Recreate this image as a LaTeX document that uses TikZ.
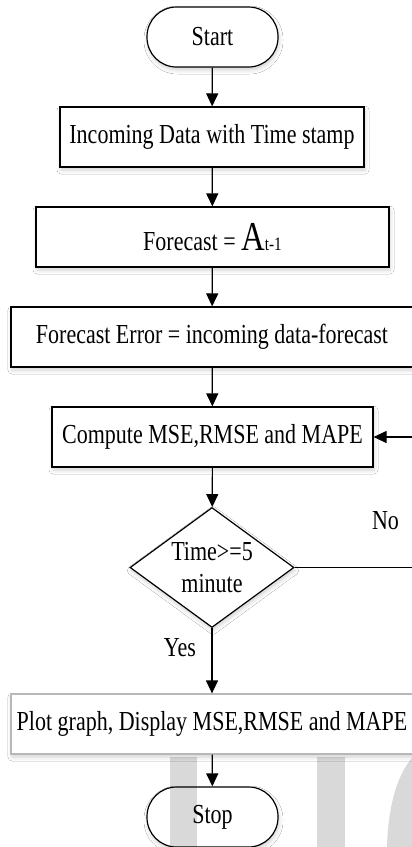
\documentclass[tikz,border=0pt]{standalone}
\usepackage{fontspec}
\setmainfont[FakeStretch=0.8]{Liberation Serif}
\usetikzlibrary{shapes.geometric,arrows.meta,shadows.blur}

\tikzset{
  flow/.style={draw=black, line width=1.2pt, fill=white, inner sep=0pt,
    font=\fontsize{27.5pt}{32pt}\selectfont,
    blur shadow={shadow xshift=1pt, shadow yshift=-3pt, shadow blur radius=4pt, shadow opacity=18}},
  procbox/.style={flow, rectangle, minimum height=60pt},
  termbox/.style={flow, rectangle, rounded corners=29.5pt, minimum width=131pt, minimum height=60pt},
  decbox/.style={flow, diamond, aspect=1.367, minimum width=164pt, minimum height=120pt, align=center},
  link/.style={line width=1.2pt, -{Triangle[width=12pt,length=13pt]}},
  lbl/.style={font=\fontsize{27.5pt}{32pt}\selectfont, inner sep=0pt},
  wmark/.style={fill=black, opacity=0.15}
}

\begin{document}
\begin{tikzpicture}[x=1pt, y=-1pt]
  \useasboundingbox (0,0) rectangle (412,847);
  \fill[white] (0,0) rectangle (412,847);
  \clip (0,0) rectangle (412,847);

  % flowchart steps
  \node[termbox] (start) at (212.5,37) {Start};
  \node[procbox, minimum width=304pt] (incoming) at (212,137) {Incoming Data with Time stamp};
  \node[procbox, minimum width=353pt] (forecast) at (212.5,237)
    {Forecast = {\fontsize{41pt}{41pt}\selectfont A}{\fontsize{19pt}{19pt}\selectfont t-1}};
  \node[procbox, minimum width=402pt] (ferror) at (212,337) {Forecast Error = incoming data-forecast};
  \node[procbox, minimum width=321pt] (compute) at (212.5,437) {Compute MSE,RMSE and MAPE};
  \node[decbox] (check) at (212,567.5) {Time>=5\\minute};
  \node[procbox, minimum width=402pt, draw=black!28] (plot) at (212,724) {Plot graph, Display MSE,RMSE and MAPE};
  \node[termbox] (stop) at (212.5,817) {Stop};

  % connectors
  \draw[link] (start) -- (incoming);
  \draw[link] (incoming) -- (forecast);
  \draw[link] (forecast) -- (ferror);
  \draw[link] (ferror) -- (compute);
  \draw[link] (compute) -- (check);
  \draw[link] (check) -- (plot);
  \draw[link] (plot) -- (stop);

  % loop back while the time limit is not reached
  \coordinate (loopturn) at (426,567.5);
  \draw[link] (check.east) -- (loopturn) |- (compute.east);

  \node[lbl] (nolbl) at (385.5,521) {No};
  \node[lbl] (yeslbl) at (180,648) {Yes};

  % watermark letters
  \fill[wmark] (170,757) rectangle (197,847);
  \fill[wmark] (317,757) rectangle (345,847);
  \fill[wmark] (413,757) .. controls (396,775) and (388,810) .. (387,847) -- (413,847) -- cycle;
\end{tikzpicture}
\end{document}
